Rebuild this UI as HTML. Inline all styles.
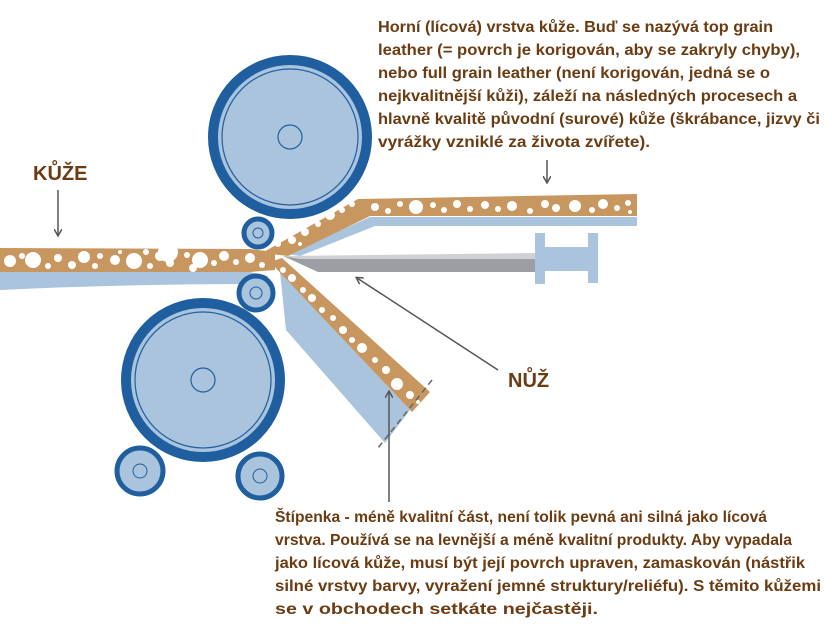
<!DOCTYPE html>
<html><head><meta charset="utf-8"><style>
html,body{margin:0;padding:0;background:#fff;width:832px;height:624px;overflow:hidden}
svg{display:block}
text{font-family:"Liberation Sans",sans-serif;font-weight:bold;fill:#6b3b12}
</style></head><body>
<svg width="832" height="624" viewBox="0 0 832 624" xmlns="http://www.w3.org/2000/svg">
<defs>
<marker id="ah" markerWidth="8" markerHeight="8" refX="6" refY="4" orient="auto" markerUnits="userSpaceOnUse">
<path d="M0,0 L7,4 L0,8" fill="none" stroke="#555" stroke-width="1.5"/></marker>
</defs>
<path d="M0,272 L250,272 L268,276 L268,284 Q120,284 0,290 Z" fill="#a9c4dc"/>
<path d="M288,254 L370,217 L637,217 L637,226 L375,226 L300,256 Z" fill="#a9c4dc"/>
<path d="M280,272 L410,410 L385,443 L286,330 Z" fill="#a9c4dc"/>
<g fill="#c8975f">
<path d="M0,248 L250,249 L275,252 L275,270 L250,272 L0,272 Z"/>
<path d="M262,253 L358,199 L637,194 L637,216 L370,216 L288,256 Z"/>
<path d="M270,262 L282,258 L430,392 L412,412 Z"/>
</g>
<g fill="#fff">
<circle cx="10" cy="261" r="6"/><circle cx="22" cy="256" r="3"/><circle cx="33" cy="260" r="8"/><circle cx="48" cy="266" r="3"/><circle cx="58" cy="258" r="4"/><circle cx="72" cy="265" r="4"/><circle cx="84" cy="257" r="6"/><circle cx="95" cy="266" r="3"/><circle cx="100" cy="256" r="3"/><circle cx="115" cy="260" r="5"/><circle cx="134" cy="261" r="8"/><circle cx="150" cy="266" r="3"/><circle cx="160" cy="256" r="5"/><circle cx="170" cy="263" r="4"/><circle cx="187" cy="255" r="3"/><circle cx="200" cy="260" r="8"/><circle cx="214" cy="263" r="3"/><circle cx="224" cy="256" r="5"/><circle cx="236" cy="262" r="3"/><circle cx="250" cy="258" r="5"/><circle cx="262" cy="265" r="3"/>
<circle cx="120" cy="252" r="2"/><circle cx="168" cy="252" r="10"/><circle cx="146" cy="252" r="3"/><circle cx="193" cy="268" r="4"/>
<circle cx="278" cy="244" r="3"/><circle cx="292" cy="240" r="4"/><circle cx="305" cy="232" r="4"/><circle cx="318" cy="224" r="3"/><circle cx="330" cy="215" r="5"/><circle cx="342" cy="210" r="3"/><circle cx="352" cy="204" r="3"/><circle cx="300" cy="244" r="2"/>
<circle cx="375" cy="207" r="4"/><circle cx="388" cy="211" r="3"/><circle cx="400" cy="204" r="3"/><circle cx="416" cy="207" r="7"/><circle cx="433" cy="205" r="3"/><circle cx="444" cy="210" r="3"/><circle cx="457" cy="204" r="4"/><circle cx="470" cy="209" r="3"/><circle cx="485" cy="205" r="4"/><circle cx="498" cy="209" r="3"/><circle cx="512" cy="206" r="5"/><circle cx="530" cy="211" r="3"/><circle cx="545" cy="204" r="4"/><circle cx="556" cy="208" r="4"/><circle cx="575" cy="206" r="6"/><circle cx="592" cy="210" r="3"/><circle cx="603" cy="204" r="5"/><circle cx="617" cy="208" r="3"/><circle cx="628" cy="203" r="3"/><circle cx="630" cy="212" r="2"/>
<circle cx="283" cy="270" r="3"/><circle cx="292" cy="278" r="4"/><circle cx="303" cy="290" r="3"/><circle cx="312" cy="298" r="4"/><circle cx="322" cy="310" r="3"/><circle cx="333" cy="318" r="3"/><circle cx="343" cy="330" r="4"/><circle cx="352" cy="340" r="3"/><circle cx="362" cy="348" r="5"/><circle cx="375" cy="360" r="3"/><circle cx="386" cy="370" r="4"/><circle cx="397" cy="384" r="6"/><circle cx="410" cy="395" r="4"/><circle cx="418" cy="402" r="2"/>
</g>
<path d="M283,256 L537,253 L537,259 L300,259 Z" fill="#cfd1d4"/>
<path d="M283,256 L300,259 L537,259 L537,272 L318,272 Z" fill="#9d9ea3"/>
<g fill="#a9c4dc"><rect x="535" y="233" width="10" height="51"/><rect x="545" y="247" width="44" height="24"/><rect x="588" y="233" width="10" height="50"/></g>
<g>
<circle cx="290" cy="137" r="77" fill="#a9c4dc" stroke="#1f5fa0" stroke-width="10"/>
<circle cx="290" cy="137" r="68" fill="none" stroke="#1f5fa0" stroke-width="1.2"/>
<circle cx="290" cy="137" r="12" fill="none" stroke="#1f5fa0" stroke-width="1.2"/>
<circle cx="203" cy="380" r="77" fill="#a9c4dc" stroke="#1f5fa0" stroke-width="10"/>
<circle cx="203" cy="380" r="68" fill="none" stroke="#1f5fa0" stroke-width="1.2"/>
<circle cx="203" cy="380" r="12" fill="none" stroke="#1f5fa0" stroke-width="1.2"/>
<circle cx="258" cy="233" r="14" fill="#a9c4dc" stroke="#1f5fa0" stroke-width="5"/>
<circle cx="258" cy="233" r="5" fill="none" stroke="#1f5fa0" stroke-width="1"/>
<circle cx="256" cy="293" r="17" fill="#a9c4dc" stroke="#1f5fa0" stroke-width="5"/>
<circle cx="256" cy="293" r="6" fill="none" stroke="#1f5fa0" stroke-width="1"/>
<circle cx="140" cy="471" r="23" fill="#a9c4dc" stroke="#1f5fa0" stroke-width="5"/>
<circle cx="140" cy="471" r="7" fill="none" stroke="#1f5fa0" stroke-width="1"/>
<circle cx="260" cy="476" r="22" fill="#a9c4dc" stroke="#1f5fa0" stroke-width="5"/>
<circle cx="260" cy="476" r="7" fill="none" stroke="#1f5fa0" stroke-width="1"/>
</g>
<line x1="432" y1="380" x2="378" y2="448" stroke="#666" stroke-width="1.5" stroke-dasharray="6,4"/>
<g stroke="#555" stroke-width="1.5" marker-end="url(#ah)">
<line x1="58" y1="190" x2="58" y2="235"/>
<line x1="547" y1="160" x2="547" y2="182"/>
<line x1="498" y1="370" x2="357" y2="278"/>
<line x1="389" y1="502" x2="389" y2="392"/>
</g>
<text x="33" y="180" font-size="20">KŮŽE</text>
<text x="508" y="387" font-size="20">NŮŽ</text>
<g font-size="16">
<text x="378" y="32" textLength="395" lengthAdjust="spacingAndGlyphs">Horní (lícová) vrstva kůže. Buď se nazývá top grain</text>
<text x="378" y="55" textLength="422" lengthAdjust="spacingAndGlyphs">leather (= povrch je korigován, aby se zakryly chyby),</text>
<text x="378" y="78" textLength="392" lengthAdjust="spacingAndGlyphs">nebo full grain leather (není korigován, jedná se o</text>
<text x="378" y="101" textLength="419" lengthAdjust="spacingAndGlyphs">nejkvalitnější kůži), záleží na následných procesech a</text>
<text x="378" y="124" textLength="442" lengthAdjust="spacingAndGlyphs">hlavně kvalitě původní (surové) kůže (škrábance, jizvy či</text>
<text x="378" y="147" textLength="272" lengthAdjust="spacingAndGlyphs">vyrážky vzniklé za života zvířete).</text>
<text x="275" y="522" textLength="492" lengthAdjust="spacingAndGlyphs">Štípenka - méně kvalitní část, není tolik pevná ani silná jako lícová</text>
<text x="275" y="545" textLength="517" lengthAdjust="spacingAndGlyphs">vrstva. Používá se na levnější a méně kvalitní produkty. Aby vypadala</text>
<text x="275" y="568" textLength="530" lengthAdjust="spacingAndGlyphs">jako lícová kůže, musí být její povrch upraven, zamaskován (nástřik</text>
<text x="275" y="591" textLength="546" lengthAdjust="spacingAndGlyphs">silné vrstvy barvy, vyražení jemné struktury/reliéfu). S těmito kůžemi</text>
<text x="275" y="614" textLength="323" lengthAdjust="spacingAndGlyphs">se v obchodech setkáte nejčastěji.</text>
</g>
</svg>
</body></html>
